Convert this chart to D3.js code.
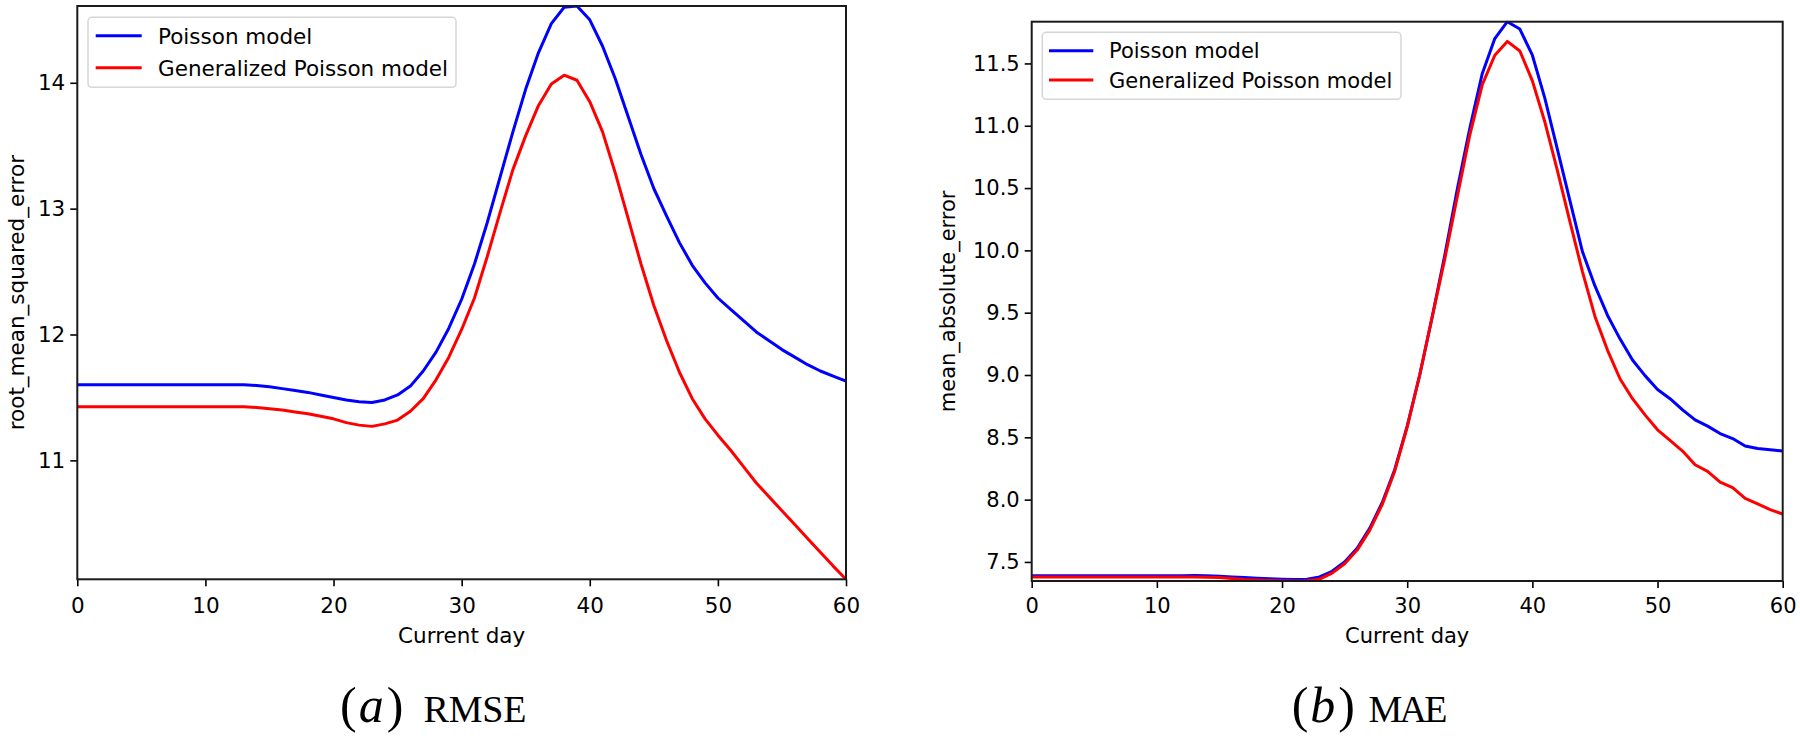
<!DOCTYPE html>
<html>
<head>
<meta charset="utf-8">
<script src="https://cdn.jsdelivr.net/npm/d3@7"></script>
<style>
  html, body { margin: 0; padding: 0; background: #fff; }
  svg { display: block; }
  text { font-family: "DejaVu Sans", sans-serif; fill: #000; }
</style>
</head>
<body>
<svg id="chart" width="1800" height="740"></svg>
<script>
// ---- data (day 0 .. 60) ----
const seriesNames = ["Poisson model", "Generalized Poisson model"];
const seriesColors = ["#0000ff", "#ff0000"];

const rmsePoisson = [
  11.60, 11.60, 11.60, 11.60, 11.60, 11.60, 11.60, 11.60, 11.60, 11.60,
  11.60, 11.60, 11.60, 11.60, 11.595, 11.585, 11.57, 11.555, 11.54, 11.52,
  11.50, 11.48, 11.465, 11.46, 11.48, 11.52, 11.59, 11.71, 11.86, 12.05,
  12.28, 12.56, 12.89, 13.25, 13.61, 13.95, 14.24, 14.47, 14.60, 14.61,
  14.50, 14.29, 14.03, 13.73, 13.43, 13.16, 12.94, 12.73, 12.55, 12.41,
  12.29, 12.20, 12.11, 12.02, 11.95, 11.88, 11.82, 11.76, 11.71, 11.67,
  11.63
];
const rmseGP = [
  11.425, 11.425, 11.425, 11.425, 11.425, 11.425, 11.425, 11.425, 11.425, 11.425,
  11.425, 11.425, 11.425, 11.425, 11.42, 11.41, 11.40, 11.385, 11.37, 11.35,
  11.33, 11.30, 11.28, 11.27, 11.29, 11.32, 11.39, 11.49, 11.64, 11.82,
  12.04, 12.29, 12.62, 12.97, 13.31, 13.58, 13.82, 13.99, 14.06, 14.02,
  13.85, 13.61, 13.28, 12.92, 12.56, 12.23, 11.95, 11.70, 11.49, 11.33,
  11.20, 11.08, 10.95, 10.82, 10.71, 10.60, 10.49, 10.38, 10.27, 10.16,
  10.055
];
const maePoisson = [
  7.39, 7.39, 7.39, 7.39, 7.39, 7.39, 7.39, 7.39, 7.39, 7.39,
  7.39, 7.39, 7.39, 7.392, 7.39, 7.385, 7.38, 7.375, 7.37, 7.365,
  7.362, 7.36, 7.362, 7.38, 7.425, 7.50, 7.61, 7.77, 7.975, 8.24,
  8.59, 9.00, 9.467, 9.96, 10.49, 10.98, 11.42, 11.70, 11.835, 11.776,
  11.566, 11.22, 10.81, 10.40, 9.99, 9.715, 9.48, 9.29, 9.12, 8.995,
  8.884, 8.81, 8.72, 8.64, 8.59, 8.53, 8.49, 8.43, 8.41, 8.40,
  8.39
];
const maeGP = [
  7.38, 7.38, 7.38, 7.38, 7.38, 7.38, 7.38, 7.38, 7.38, 7.38,
  7.38, 7.38, 7.38, 7.38, 7.378, 7.375, 7.368, 7.36, 7.355, 7.352,
  7.35, 7.347, 7.35, 7.362, 7.41, 7.485, 7.595, 7.753, 7.96, 8.228,
  8.583, 9.00, 9.467, 9.93, 10.43, 10.925, 11.33, 11.566, 11.677, 11.60,
  11.36, 11.03, 10.64, 10.23, 9.83, 9.47, 9.20, 8.97, 8.81, 8.68,
  8.56, 8.475, 8.39, 8.28, 8.227, 8.14, 8.096, 8.01, 7.965, 7.92,
  7.884
];

const xTicks = [0, 10, 20, 30, 40, 50, 60];
const rmseYTicks = [11, 12, 13, 14];
const maeYTicks = [7.5, 8.0, 8.5, 9.0, 9.5, 10.0, 10.5, 11.0, 11.5];

const xLabel = "Current day";
const panels = [
  {
    series: [rmsePoisson, rmseGP], yTicks: rmseYTicks, yFmt: d3.format("d"),
    yLabel: "root_mean_squared_error", cap: ["a", "RMSE"],
    box: {l: 77.3, r: 846, t: 6, b: 579.3}, font: 21.5,
    yLabelX: 23.5,
    legend: {x: 88, y: 17.3, w: 368, h: 70, lx0: 95.7, lx1: 141.7, tx: 158, rows: [35.7, 67.7], base: [44, 76]},
    capX: 340, capWordX: 423.5, capWordLen: 103
  },
  {
    series: [maePoisson, maeGP], yTicks: maeYTicks, yFmt: d3.format(".1f"),
    yLabel: "mean_absolute_error", cap: ["b", "MAE"],
    box: {l: 1031.7, r: 1782.7, t: 21.7, b: 581}, font: 21,
    yLabelX: 955,
    legend: {x: 1042.3, y: 32.3, w: 358.7, h: 67, lx0: 1049, lx1: 1093.3, tx: 1109, rows: [50.7, 80], base: [58.3, 88.3]},
    capX: 1291.7, capWordX: 1368.5, capWordLen: 79
  }
];

const svg = d3.select("#chart");

panels.forEach(p => {
  const B = p.box;
  const g = svg.append("g");
  const n = p.series[0].length;
  const x = d3.scaleLinear().domain([0, n - 1]).range([B.l, B.r]);
  const all = p.series.flat();
  const y = d3.scaleLinear().domain(d3.extent(all)).range([B.b, B.t]);

  const cid = "clip" + p.cap[0];
  svg.append("clipPath").attr("id", cid).append("rect")
    .attr("x", B.l).attr("y", B.t - 1).attr("width", B.r - B.l).attr("height", B.b - B.t + 2);

  const line = d3.line().x((d, i) => x(i)).y(d => y(d));
  p.series.forEach((s, k) => {
    g.append("path").datum(s)
      .attr("clip-path", `url(#${cid})`)
      .attr("fill", "none").attr("stroke", seriesColors[k])
      .attr("stroke-width", 3).attr("stroke-linejoin", "round")
      .attr("d", line);
  });

  const xAxis = d3.axisBottom(x).tickValues(xTicks).tickSize(7).tickPadding(5).tickFormat(d3.format("d"));
  const gx = g.append("g").attr("transform", `translate(0,${B.b})`).call(xAxis);
  const yAxis = d3.axisLeft(y).tickValues(p.yTicks).tickSize(7).tickPadding(5).tickFormat(p.yFmt);
  const gy = g.append("g").attr("transform", `translate(${B.l},0)`).call(yAxis);
  [gx, gy].forEach(a => {
    a.select(".domain").remove();
    a.selectAll(".tick line").attr("stroke", "#000").attr("stroke-width", 1.6);
    a.selectAll(".tick text").attr("font-size", p.font).attr("font-family", "DejaVu Sans").attr("fill", "#000");
  });
  gx.selectAll(".tick text").attr("dy", null).attr("y", 0)
    .attr("transform", `translate(0,${613 - B.b})`);

  g.append("rect").attr("x", B.l).attr("y", B.t).attr("width", B.r - B.l).attr("height", B.b - B.t)
    .attr("fill", "none").attr("stroke", "#1a1a1a").attr("stroke-width", 2);

  g.append("text").attr("x", (B.l + B.r) / 2).attr("y", 642.5)
    .attr("text-anchor", "middle").attr("font-size", p.font).text(xLabel);
  g.append("text")
    .attr("transform", `translate(${p.yLabelX},${(B.t + B.b) / 2}) rotate(-90)`)
    .attr("text-anchor", "middle").attr("font-size", p.font).text(p.yLabel);

  const L = p.legend;
  g.append("rect").attr("x", L.x).attr("y", L.y).attr("width", L.w).attr("height", L.h)
    .attr("rx", 4).attr("fill", "#fff").attr("fill-opacity", 0.8)
    .attr("stroke", "#d6d6d6").attr("stroke-width", 1.5);
  seriesNames.forEach((name, k) => {
    g.append("line").attr("x1", L.lx0).attr("x2", L.lx1).attr("y1", L.rows[k]).attr("y2", L.rows[k])
      .attr("stroke", seriesColors[k]).attr("stroke-width", 3);
    g.append("text").attr("x", L.tx).attr("y", L.base[k]).attr("font-size", p.font).text(name);
  });

  // caption: "(a)" math italic + typewriter word
  const cap = g.append("text").attr("x", p.capX).attr("y", 721.5)
    .style("font-family", "'Liberation Serif', serif").attr("font-size", 50);
  cap.append("tspan").text("(");
  cap.append("tspan").style("font-style", "italic").attr("dx", 2).text(p.cap[0]);
  cap.append("tspan").attr("dx", 3).text(")");
  g.append("text").attr("x", p.capWordX).attr("y", 721.5)
    .style("font-family", "'Liberation Serif', serif").attr("font-size", 38)
    .attr("textLength", p.capWordLen).attr("lengthAdjust", "spacing")
    .text(p.cap[1]);
});
</script>
</body>
</html>
